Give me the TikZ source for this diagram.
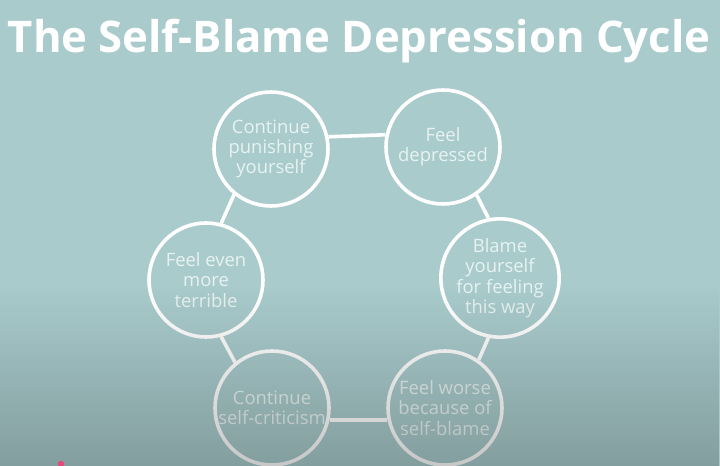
\documentclass[tikz,border=0pt]{standalone}
\usepackage{fontspec}
\setmainfont{Open Sans}
\usetikzlibrary{fadings}
\definecolor{bgtop}{HTML}{A9CBCC}
\definecolor{txt}{HTML}{E8F2F2}
\tikzfading[name=darkdown, top color=transparent!100, bottom color=transparent!78]
\tikzset{
  stage/.style={circle, draw=white, line width=3.6pt, minimum size=114bp, inner sep=0pt,
    align=center, text=txt, font=\fontsize{18.5}{20.5}\selectfont},
  link/.style={draw=white, line width=3.6pt}
}
\begin{document}
\begin{tikzpicture}[x=1bp,y=-1bp]
\useasboundingbox (0,0) rectangle (720,466);
\fill[bgtop] (0,0) rectangle (720,466);
\node[anchor=base, text=white, font=\fontsize{43.8}{50}\selectfont\bfseries] (title) at (359,53) {The Self-Blame Depression Cycle};
\node[stage] (c1) at (271,149) {Continue\\punishing\\yourself};
\node[stage] (c2) at (443,147) {Feel\\depressed};
\node[stage] (c3) at (500,278) {Blame\\yourself\\for feeling\\this way};
\node[stage] (c4) at (445,408) {Feel worse\\because of\\self-blame};
\node[stage] (c5) at (272,408) {Continue\\self-criticism};
\node[stage] (c6) at (206,280) {Feel even\\more\\terrible};
\draw[link] (c1.12) -- (c2.168);
\draw[link] (c2.305.5) -- (c3.101.5);
\draw[link] (c3.259.1) -- (c4.55.1);
\draw[link] (c4.192) -- (c5.348);
\draw[link] (c5.129.3) -- (c6.285.3);
\draw[link] (c6.75.6) -- (c1.231.6);
\fill[black, path fading=darkdown] (0,285) rectangle (720,466);
\fill[red!70!magenta!80!white, opacity=0.8] (61,464) circle (3.2);
\end{tikzpicture}
\end{document}
